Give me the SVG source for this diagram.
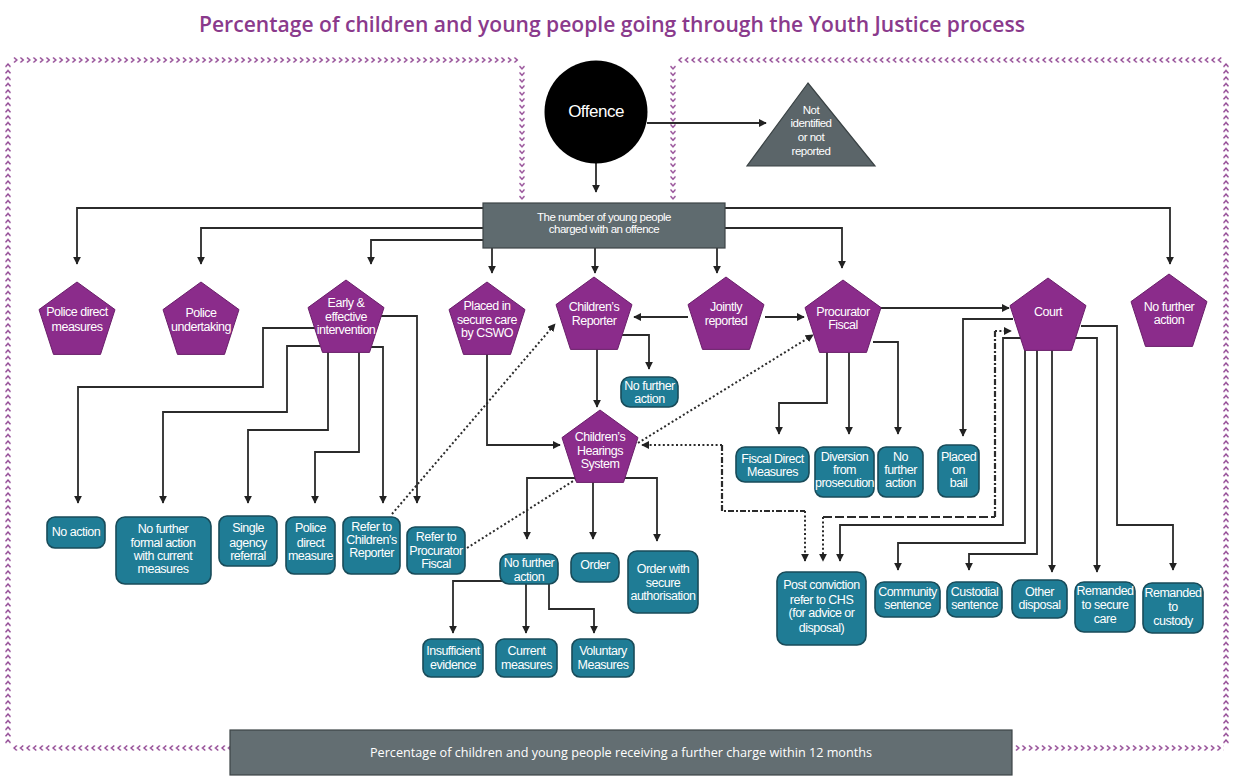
<svg xmlns="http://www.w3.org/2000/svg" xmlns:xlink="http://www.w3.org/1999/xlink" width="1233" height="781" viewBox="0 0 1233 781">
<style>
.pent{fill:#8B2C8B;stroke:#6A1F6A;stroke-width:1}
.box{fill:#1F7C95;stroke:#184B59;stroke-width:1.6}
.t{font-family:"Liberation Sans",Arial,sans-serif;font-size:12.5px;fill:#fff;text-anchor:middle;letter-spacing:-0.5px}
.ln{fill:none;stroke:#2b2b2b;stroke-width:1.8}
.arr{marker-end:url(#ah)}
.dot{stroke-dasharray:2 2.4;stroke-width:2}
.dd{stroke-dasharray:6 2 2 2;stroke-width:2.2}
.dash{stroke-dasharray:9 3;stroke-width:2.2}
.chev{fill:none;stroke:#8E4290;stroke-width:1.4}
</style>
<defs>
<marker id="ah" viewBox="0 0 10 10" refX="9" refY="5" markerWidth="8" markerHeight="8" markerUnits="userSpaceOnUse" orient="auto"><path d="M0,0 L10,5 L0,10 z" fill="#222"/></marker>
<pattern id="chR" width="6.5" height="10" patternUnits="userSpaceOnUse"><path class="chev" d="M2,2.5 L4.8,5 L2,7.5"/></pattern>
<pattern id="chL" width="6.5" height="10" patternUnits="userSpaceOnUse"><path class="chev" d="M4.8,2.5 L2,5 L4.8,7.5"/></pattern>
<pattern id="chU" width="10" height="6.5" patternUnits="userSpaceOnUse"><path class="chev" d="M2.5,4.8 L5,2 L7.5,4.8"/></pattern>
<pattern id="chD" width="10" height="6.5" patternUnits="userSpaceOnUse"><path class="chev" d="M2.5,2 L5,4.8 L7.5,2"/></pattern>
<polygon id="pg" points="0,-40 38,-12.4 23.5,32.4 -23.5,32.4 -38,-12.4"/>
</defs>
<rect width="1233" height="781" fill="#fff"/>

<text x="612" y="32" font-family="'Open Sans','Liberation Sans',sans-serif" font-size="21" font-weight="600" fill="#8A3A8C" text-anchor="middle" textLength="826" lengthAdjust="spacingAndGlyphs">Percentage of children and young people going through the Youth Justice process</text>

<g id="border">
<g transform="translate(12,55)"><rect width="508" height="10" fill="url(#chR)"/></g>
<g transform="translate(517,64)"><rect width="10" height="137" fill="url(#chD)"/></g>
<g transform="translate(677,55)"><rect width="546" height="10" fill="url(#chL)"/></g>
<g transform="translate(668,64)"><rect width="10" height="137" fill="url(#chD)"/></g>
<g transform="translate(3,62)"><rect width="10" height="682" fill="url(#chU)"/></g>
<g transform="translate(1221,62)"><rect width="10" height="682" fill="url(#chU)"/></g>
<g transform="translate(12,743)"><rect width="218" height="10" fill="url(#chL)"/></g>
<g transform="translate(1014,743)"><rect width="210" height="10" fill="url(#chR)"/></g>
</g>

<g id="connectors">
<path class="ln arr" d="M647,123 H766"/>
<path class="ln arr" d="M596,163 V192"/>
<path class="ln arr" d="M483,208 H77 V264"/>
<path class="ln arr" d="M483,228 H201 V264"/>
<path class="ln arr" d="M483,240 H371 V264"/>
<path class="ln arr" d="M492,248 V273"/>
<path class="ln arr" d="M595,248 V273"/>
<path class="ln arr" d="M717,248 V273"/>
<path class="ln arr" d="M725,228 H842 V268"/>
<path class="ln arr" d="M725,208 H1170 V264"/>
<path class="ln arr" d="M688,317 H634"/>
<path class="ln arr" d="M765,317 H804"/>
<path class="ln arr" d="M878,308 H1009"/>
<path class="ln arr" d="M622,335 H649 V369"/>
<path class="ln arr" d="M597,349 V407"/>
<path class="ln arr" d="M487,354 V445 H560"/>
<path class="ln arr" d="M315,328 H263 V387 H78 V503"/>
<path class="ln arr" d="M320,346 H287 V412 H163 V503"/>
<path class="ln arr" d="M328,352 V430 H248 V503"/>
<path class="ln arr" d="M359,352 V452 H315 V503"/>
<path class="ln arr" d="M368,347 H383 V503"/>
<path class="ln arr" d="M380,316 H417 V503"/>
<path class="ln arr" d="M577,478 H527 V539"/>
<path class="ln arr" d="M593,482 V539"/>
<path class="ln arr" d="M623,478 H657 V541"/>
<path class="ln arr" d="M503,581 H453 V633"/>
<path class="ln arr" d="M526,584 V633"/>
<path class="ln arr" d="M549,584 V609 H594 V633"/>
<path class="ln arr" d="M827,350 V403 H779 V434"/>
<path class="ln arr" d="M849,350 V434"/>
<path class="ln arr" d="M873,342 H898 V434"/>
<path class="ln arr" d="M1013,319 H963 V436"/>
<path class="ln arr" d="M1030,338 H1003 V525 H840 V561"/>
<path class="ln arr" d="M1025,346 V543 H898 V570"/>
<path class="ln arr" d="M1037,346 V554 H969 V570"/>
<path class="ln arr" d="M1052,346 V572"/>
<path class="ln arr" d="M1072,338 H1097 V572"/>
<path class="ln arr" d="M1081,326 H1117 V525 H1173 V570"/>
<path class="ln dot arr" d="M722,445 H642"/>
<path class="ln dd" d="M722,445 V511 H805"/>
<path class="ln dot arr" d="M805,511 V561"/>
<path class="ln dot arr" d="M823,517 V561"/>
<path class="ln dash" d="M823,517 H995"/>
<path class="ln dd" d="M995,517 V331"/>
<path class="ln dot arr" d="M995,331 H1011"/>
<path class="ln dot arr" d="M392,514 L555,324"/>
<path class="ln dot" d="M467,548 L578,478"/>
<path class="ln dot arr" d="M638,443 L813,335"/>
</g>

<g id="offence"><circle cx="596" cy="112" r="51.5" fill="#000"/><text class="t" x="596" y="117" style="font-size:17px">Offence</text></g>
<g id="not-identified"><polygon points="808,83 747,166 875,166" fill="#5B6569" stroke="#3A4244" stroke-width="1.2"/>
<text class="t" style="font-size:11.5px" x="811" y="114">Not</text><text class="t" style="font-size:11.5px" x="811" y="127">identified</text><text class="t" style="font-size:11.5px" x="811" y="141">or not</text><text class="t" style="font-size:11.5px" x="811" y="155">reported</text></g>
<g id="charged"><rect x="483" y="203" width="242" height="45" fill="#5F6B6F" stroke="#3C4447" stroke-width="1.2"/>
<text class="t" style="font-size:11.5px" x="604" y="221">The number of young people</text><text class="t" style="font-size:11.5px" x="604" y="233">charged with an offence</text></g>

<g id="police-direct-measures"><use href="#pg" class="pent" x="77" y="322"/><text class="t" x="77" y="316">Police direct</text><text class="t" x="77" y="331">measures</text></g>
<g id="police-undertaking"><use href="#pg" class="pent" x="201" y="322"/><text class="t" x="201" y="317">Police</text><text class="t" x="201" y="331">undertaking</text></g>
<g id="early-effective"><use href="#pg" class="pent" x="346" y="320"/><text class="t" x="346" y="307">Early &amp;</text><text class="t" x="346" y="321">effective</text><text class="t" x="346" y="334">intervention</text></g>
<g id="secure-care"><use href="#pg" class="pent" x="487" y="322"/><text class="t" x="487" y="310">Placed in</text><text class="t" x="487" y="324">secure care</text><text class="t" x="487" y="337">by CSWO</text></g>
<g id="childrens-reporter"><use href="#pg" class="pent" x="594" y="317"/><text class="t" x="594" y="311">Children’s</text><text class="t" x="594" y="325">Reporter</text></g>
<g id="jointly-reported"><use href="#pg" class="pent" x="726" y="317"/><text class="t" x="726" y="311">Jointly</text><text class="t" x="726" y="325">reported</text></g>
<g id="procurator-fiscal"><use href="#pg" class="pent" x="843" y="320"/><text class="t" x="843" y="316">Procurator</text><text class="t" x="843" y="329">Fiscal</text></g>
<g id="court"><use href="#pg" class="pent" x="1048" y="318"/><text class="t" x="1048" y="316">Court</text></g>
<g id="no-further-action-top"><use href="#pg" class="pent" x="1169" y="314"/><text class="t" x="1169" y="311">No further</text><text class="t" x="1169" y="324">action</text></g>
<g id="chs"><use href="#pg" class="pent" x="600" y="450"/><text class="t" x="600" y="441">Children’s</text><text class="t" x="600" y="455">Hearings</text><text class="t" x="600" y="468">System</text></g>

<g id="no-action"><rect class="box" x="47" y="517" width="58" height="31" rx="8"/><text class="t" x="76" y="536">No action</text></g>
<g id="nffa"><rect class="box" x="116" y="517" width="95" height="67" rx="9"/><text class="t" x="163" y="533">No further</text><text class="t" x="163" y="547">formal action</text><text class="t" x="163" y="560">with current</text><text class="t" x="163" y="573">measures</text></g>
<g id="single-agency"><rect class="box" x="219" y="516" width="58" height="50" rx="8"/><text class="t" x="248" y="532">Single</text><text class="t" x="248" y="547">agency</text><text class="t" x="248" y="560">referral</text></g>
<g id="police-direct-measure"><rect class="box" x="286" y="517" width="49" height="57" rx="8"/><text class="t" x="310.5" y="532">Police</text><text class="t" x="310.5" y="547">direct</text><text class="t" x="310.5" y="560">measure</text></g>
<g id="refer-cr"><rect class="box" x="343" y="517" width="57" height="57" rx="8"/><text class="t" x="371.5" y="531">Refer to</text><text class="t" x="371.5" y="544">Children’s</text><text class="t" x="371.5" y="557">Reporter</text></g>
<g id="refer-pf"><rect class="box" x="407" y="527" width="58" height="47" rx="8"/><text class="t" x="436" y="541">Refer to</text><text class="t" x="436" y="555">Procurator</text><text class="t" x="436" y="568">Fiscal</text></g>
<g id="cr-nfa"><rect class="box" x="621" y="377" width="57" height="30" rx="9"/><text class="t" x="649.5" y="390">No further</text><text class="t" x="649.5" y="403">action</text></g>
<g id="chs-nfa"><rect class="box" x="500" y="554" width="58" height="30" rx="9"/><text class="t" x="529" y="567">No further</text><text class="t" x="529" y="581">action</text></g>
<g id="order"><rect class="box" x="571" y="553" width="48" height="29" rx="9"/><text class="t" x="595" y="569">Order</text></g>
<g id="order-secure"><rect class="box" x="628" y="551" width="70" height="62" rx="9"/><text class="t" x="663" y="573">Order with</text><text class="t" x="663" y="587">secure</text><text class="t" x="663" y="600">authorisation</text></g>
<g id="insufficient"><rect class="box" x="423" y="639" width="60" height="38" rx="8"/><text class="t" x="453" y="655">Insufficient</text><text class="t" x="453" y="669">evidence</text></g>
<g id="current"><rect class="box" x="496" y="639" width="61" height="38" rx="8"/><text class="t" x="526.5" y="655">Current</text><text class="t" x="526.5" y="669">measures</text></g>
<g id="voluntary"><rect class="box" x="572" y="639" width="62" height="38" rx="8"/><text class="t" x="603" y="655">Voluntary</text><text class="t" x="603" y="669">Measures</text></g>
<g id="fiscal-direct"><rect class="box" x="736" y="447" width="73" height="35" rx="9"/><text class="t" x="772.5" y="463">Fiscal Direct</text><text class="t" x="772.5" y="476">Measures</text></g>
<g id="diversion"><rect class="box" x="815" y="447" width="59" height="50" rx="8"/><text class="t" x="844.5" y="461">Diversion</text><text class="t" x="844.5" y="474">from</text><text class="t" x="844.5" y="487">prosecution</text></g>
<g id="pf-nfa"><rect class="box" x="878" y="447" width="45" height="50" rx="8"/><text class="t" x="900.5" y="461">No</text><text class="t" x="900.5" y="474">further</text><text class="t" x="900.5" y="487">action</text></g>
<g id="bail"><rect class="box" x="938" y="445" width="41" height="52" rx="8"/><text class="t" x="958.5" y="461">Placed</text><text class="t" x="958.5" y="474">on</text><text class="t" x="958.5" y="487">bail</text></g>
<g id="post-conviction"><rect class="box" x="777" y="572" width="89" height="73" rx="9"/><text class="t" x="821.5" y="589">Post conviction</text><text class="t" x="821.5" y="604">refer to CHS</text><text class="t" x="821.5" y="617">(for advice or</text><text class="t" x="821.5" y="632">disposal)</text></g>
<g id="community"><rect class="box" x="875" y="582" width="65" height="35" rx="9"/><text class="t" x="907.5" y="596">Community</text><text class="t" x="907.5" y="609">sentence</text></g>
<g id="custodial"><rect class="box" x="947" y="582" width="55" height="35" rx="9"/><text class="t" x="974.5" y="596">Custodial</text><text class="t" x="974.5" y="609">sentence</text></g>
<g id="other-disposal"><rect class="box" x="1012" y="580" width="55" height="38" rx="9"/><text class="t" x="1039.5" y="596">Other</text><text class="t" x="1039.5" y="609">disposal</text></g>
<g id="remanded-secure"><rect class="box" x="1075" y="582" width="60" height="50" rx="9"/><text class="t" x="1105" y="595">Remanded</text><text class="t" x="1105" y="609">to secure</text><text class="t" x="1105" y="623">care</text></g>
<g id="remanded-custody"><rect class="box" x="1143" y="583" width="60" height="50" rx="9"/><text class="t" x="1173" y="597">Remanded</text><text class="t" x="1173" y="611">to</text><text class="t" x="1173" y="625">custody</text></g>

<g id="further-charge"><rect x="230" y="730" width="782" height="45" fill="#636E72" stroke="#3C4447" stroke-width="1.2"/>
<text x="621" y="757" font-family="'Open Sans','Liberation Sans',sans-serif" font-size="12.5" fill="#fff" text-anchor="middle" textLength="502" lengthAdjust="spacingAndGlyphs">Percentage of children and young people receiving a further charge within 12 months</text></g>
</svg>
